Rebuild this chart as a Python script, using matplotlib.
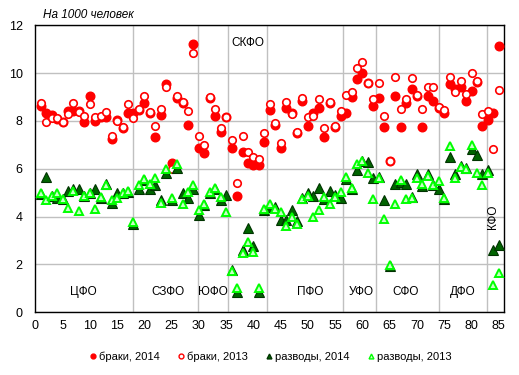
import matplotlib
matplotlib.use("Agg")
import matplotlib.pyplot as plt
from matplotlib.lines import Line2D
import numpy as np

plt.rcParams['font.family'] = ['Liberation Sans', 'DejaVu Sans']

# region index 1..85
regions = list(range(1, 86))

marriages_2014 = [8.62, 8.32, 8.25, 8.07, 7.97, 8.43, 8.43, 8.43, 7.94, 9.04,
                  8.01, 8.15, 8.15, 7.23, 8.04, 7.72, 8.32, 8.32, 8.46, 8.73,
                  8.34, 7.31, 8.25, 9.54, 6.22, 8.95, 8.73, 7.83, 11.22, 6.85,
                  6.64, 8.94, 8.22, 7.52, 8.15, 6.85, 4.86, 6.71, 6.22, 6.15,
                  6.15, 7.13, 8.46, 7.83, 6.85, 8.53, 8.32, 7.51, 8.83, 7.80,
                  8.32, 8.53, 7.31, 8.74, 7.73, 8.20, 8.32, 9.01, 9.74, 10.02,
                  9.60, 8.62, 8.94, 7.73, 6.33, 9.04, 7.73, 8.74, 9.32, 9.04,
                  7.73, 9.04, 8.83, 8.53, 8.32, 9.54, 9.32, 9.43, 8.83, 9.26,
                  9.64, 7.80, 8.04, 8.32, 11.13]

marriages_2013 = [8.76, 7.97, 8.11, 8.11, 7.97, 8.29, 8.76, 8.38, 8.20, 8.69,
                  8.18, 8.20, 8.38, 7.38, 8.00, 7.76, 8.69, 8.11, 8.48, 9.05,
                  8.39, 7.79, 8.48, 9.40, 5.97, 9.05, 8.80, 8.41, 10.86, 7.38,
                  6.99, 9.01, 8.48, 7.69, 8.15, 7.20, 5.39, 7.38, 6.69, 6.48,
                  6.41, 7.48, 8.71, 7.90, 7.09, 8.78, 8.27, 7.55, 8.97, 8.18,
                  8.20, 8.90, 7.69, 8.80, 7.79, 8.41, 9.08, 9.22, 10.20, 10.48,
                  9.60, 8.90, 9.57, 8.20, 6.32, 9.85, 8.48, 8.90, 9.78, 9.10,
                  8.48, 9.40, 9.40, 8.57, 8.46, 9.85, 9.20, 9.68, 9.11, 9.99,
                  9.68, 8.27, 8.41, 6.81, 9.28]

divorces_2014 = [4.95, 5.67, 4.85, 4.78, 4.75, 5.08, 5.15, 5.15, 4.87, 5.00,
                 5.15, 4.79, 5.35, 4.56, 5.00, 4.98, 5.02, 3.70, 5.15, 5.53,
                 5.17, 5.30, 4.69, 5.80, 4.69, 6.05, 5.00, 4.78, 5.15, 4.07,
                 4.50, 5.00, 5.14, 4.70, 4.88, 1.75, 0.85, 2.60, 3.50, 2.77,
                 0.85, 4.27, 4.40, 4.38, 3.85, 3.85, 4.27, 3.82, 4.76, 4.97,
                 4.87, 5.18, 4.75, 5.08, 4.90, 4.76, 5.55, 5.15, 5.95, 6.32,
                 6.30, 5.60, 5.67, 4.70, 1.95, 5.37, 5.45, 5.36, 4.80, 5.78,
                 5.28, 5.76, 5.32, 5.16, 4.74, 6.50, 5.78, 6.13, 6.05, 6.82,
                 6.58, 5.78, 5.93, 2.60, 2.79]

divorces_2013 = [4.99, 4.70, 4.86, 4.99, 4.72, 4.37, 5.08, 4.21, 4.86, 5.00,
                 4.30, 4.81, 5.33, 4.70, 4.79, 4.99, 5.07, 3.75, 5.30, 5.56,
                 5.37, 5.60, 4.55, 6.00, 4.76, 6.20, 4.52, 5.01, 5.30, 4.27,
                 4.52, 5.01, 5.18, 4.83, 4.20, 1.72, 1.00, 2.49, 2.92, 2.50,
                 1.00, 4.30, 4.52, 4.31, 4.20, 3.60, 4.00, 3.70, 4.72, 4.87,
                 4.00, 4.27, 4.80, 4.52, 4.83, 5.01, 5.67, 5.20, 6.20, 6.32,
                 5.80, 4.72, 5.60, 3.88, 1.97, 4.52, 5.52, 4.72, 4.76, 5.60,
                 5.37, 5.68, 5.32, 5.50, 4.76, 6.95, 5.60, 6.08, 5.97, 6.99,
                 5.83, 5.32, 5.83, 1.13, 1.62]

district_bounds = [18.0, 29.8, 35.3, 42.4, 56.5, 62.5, 74.0, 82.8]
district_names = ['ЦФО', 'СЗФО', 'ЮФО', 'СКФО', 'ПФО', 'УФО', 'СФО', 'ДФО', 'КФО']
district_label_x = [8.8, 24.3, 32.6, 39.0, 50.5, 59.8, 67.9, 78.4, 83.9]
district_label_y = [0.85, 0.85, 0.85, 11.25, 0.85, 0.85, 0.85, 0.85, 4.0]

fig = plt.figure(figsize=(5.19, 3.75), dpi=100)
ax = fig.add_axes([0.068, 0.1677, 0.9036, 0.7648])

ax.set_xlim(0, 86)
ax.set_ylim(0, 12)
ax.set_xticks(np.arange(0, 86, 5))
ax.set_yticks(np.arange(0, 13, 2))
ax.yaxis.grid(True, color='#c0c0c0', linewidth=1)
for b in district_bounds:
    ax.axvline(b, color='#c0c0c0', linewidth=1, zorder=0)
ax.set_axisbelow(True)
for s in ax.spines.values():
    s.set_color('black')
    s.set_linewidth(1)
ax.tick_params(length=0, labelsize=9)
ax.tick_params(axis='x', pad=6)
ax.tick_params(axis='y', pad=9)

red = '#ff0000'
dark_g = '#006400'
light_g = '#00ff00'

ax.plot(regions, marriages_2014, 'o', ms=6.2, mfc=red, mec=red, mew=1, ls='none', zorder=3)
ax.plot(regions, marriages_2013, 'o', ms=5.4, mfc='white', mec=red, mew=1.2, ls='none', zorder=4)
ax.plot(regions, divorces_2014, '^', ms=6.5, mfc=dark_g, mec='#003300', mew=0.8, ls='none', zorder=5)
ax.plot(regions, divorces_2013, '^', ms=5.6, mfc='#c8ffc8', mec=light_g, mew=1.4, ls='none', zorder=6)

for name, x, y in zip(district_names, district_label_x, district_label_y):
    rot = 90 if name == 'КФО' else 0
    ax.text(x, y, name, ha='center', va='center', fontsize=8.5, rotation=rot, zorder=7)

fig.text(42.7 / 519, 1 - 15 / 375, 'На 1000 человек', style='italic', fontsize=8.5,
         ha='left', va='center')

handles = [
    Line2D([], [], marker='o', ls='none', ms=3.5, mfc=red, mec=red),
    Line2D([], [], marker='o', ls='none', ms=3.5, mfc='white', mec=red, mew=1),
    Line2D([], [], marker='^', ls='none', ms=3.5, mfc=dark_g, mec='#003300'),
    Line2D([], [], marker='^', ls='none', ms=3.5, mfc='#c8ffc8', mec=light_g, mew=1),
]
labels = ['браки, 2014', 'браки, 2013', 'разводы, 2014', 'разводы, 2013']
fig.legend(handles, labels, loc='center', bbox_to_anchor=(0.522, 1 - 357 / 375), ncol=4,
           frameon=False, fontsize=8, handlelength=0.5, handletextpad=0.25,
           columnspacing=1.7)

fig.savefig('out.png', dpi=100)
